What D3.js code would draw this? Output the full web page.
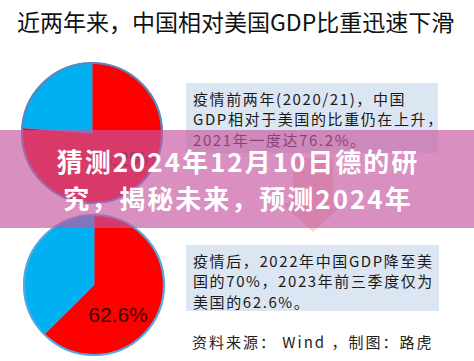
<!DOCTYPE html>
<html><head><meta charset="utf-8">
<script src="https://cdn.jsdelivr.net/npm/d3@7"></script>
<style>body{margin:0;background:#fff}svg{display:block}</style>
</head><body>
<script>
// ---- data ----
const title = "近两年来，中国相对美国GDP比重迅速下滑";
const pieYears = ["2021年", "2023年前三季度"];
const sliceNames = ["中国GDP占美国比重", "差额"];
const chinaShare = [76.2, 62.6];
const gapShare = [23.8, 37.4];
const sliceColors = ["#ff0000", "#00b0f0"];
const note1 = ["疫情前两年(2020/21)，中国", "GDP相对于美国的比重仍在上升，", "2021年一度达76.2%。"];
const note2 = ["疫情后，2022年中国GDP降至美", "国的70%，2023年前三季度仅为", "美国的62.6%。"];
const source = "资料来源： Wind ，制图：路虎";
const bannerLines = ["猜测2024年12月10日德的研", "究，揭秘未来，预测2024年"];

const W = 474, H = 361;
const svg = d3.select("body").append("svg").attr("width", W).attr("height", H);
svg.append("rect").attr("width", W).attr("height", H).attr("fill", "#fff");

const cjk = "'Noto Sans CJK SC','Noto Sans',sans-serif";

// title
svg.append("text").attr("x", 17).attr("y", 31)
  .attr("font-family", cjk).attr("font-size", 23).attr("fill", "#111")
  .text(title);

// pies
const pieGen = d3.pie().sort(null).value(d => d.v);
const color = d3.scaleOrdinal().domain(sliceNames).range(sliceColors);
const centers = [[92, 133, 70], [94, 285, 70]];
const labelPos = [[118, 166], [118, 322]];
pieYears.forEach((yr, i) => {
  const [cx, cy, r] = centers[i];
  const data = [{k: sliceNames[0], v: chinaShare[i]}, {k: sliceNames[1], v: gapShare[i]}];
  const g = svg.append("g").attr("transform", `translate(${cx},${cy})`);
  const arc = d3.arc().innerRadius(0).outerRadius(r);
  g.selectAll("path").data(pieGen(data)).join("path")
    .attr("d", arc).attr("fill", d => color(d.data.k))
    .attr("stroke", "#5b8fc4").attr("stroke-width", 0.8);
  g.append("circle").attr("r", r).attr("fill", "none")
    .attr("stroke", i === 0 ? "#5a86c0" : "#52a8e0").attr("stroke-width", 2.2);
  svg.append("text").attr("x", labelPos[i][0]).attr("y", labelPos[i][1])
    .attr("text-anchor", "middle").attr("font-family", "Liberation Sans, Arial, sans-serif")
    .attr("font-size", 21).attr("fill", "#3a0808")
    .text(d3.format(".1f")(chinaShare[i]) + "%");
});

// note boxes
function noteBox(lines, x, y, w, h, y0) {
  svg.append("rect").attr("x", x).attr("y", y).attr("width", w).attr("height", h).attr("fill", "#dce6f2");
  lines.forEach((t, j) => {
    svg.append("text").attr("x", 193).attr("y", y0 + j * 20.3)
      .attr("font-family", cjk).attr("font-size", 15).attr("letter-spacing", 1.6)
      .attr("fill", "#1a1a1a").text(t);
  });
}
noteBox(note1, 186, 83, 252, 70, 105);
noteBox(note2, 186, 245, 253, 66, 267);

// arrow (faint)
svg.append("path")
  .attr("d", "M293,158 L333,158 L333,203 L345,203 L313,232 L281,203 L293,203 Z")
  .attr("fill", "#f4b69c").attr("opacity", 0.55);

// source
svg.append("text").attr("x", 192).attr("y", 348)
  .attr("font-family", cjk).attr("font-size", 15).attr("letter-spacing", 2)
  .attr("fill", "#222").text(source);

// overlay banner
svg.append("rect").attr("x", 0).attr("y", 130).attr("width", W).attr("height", 98)
  .attr("fill", "rgb(198,87,159)").attr("fill-opacity", 0.66);
bannerLines.forEach((t, j) => {
  svg.append("text").attr("x", 238).attr("y", 172 + j * 37)
    .attr("text-anchor", "middle").attr("font-family", cjk).attr("font-weight", "bold")
    .attr("font-size", 26).attr("letter-spacing", 2).attr("fill", "#fff")
    .text(t);
});
</script>
</body></html>
